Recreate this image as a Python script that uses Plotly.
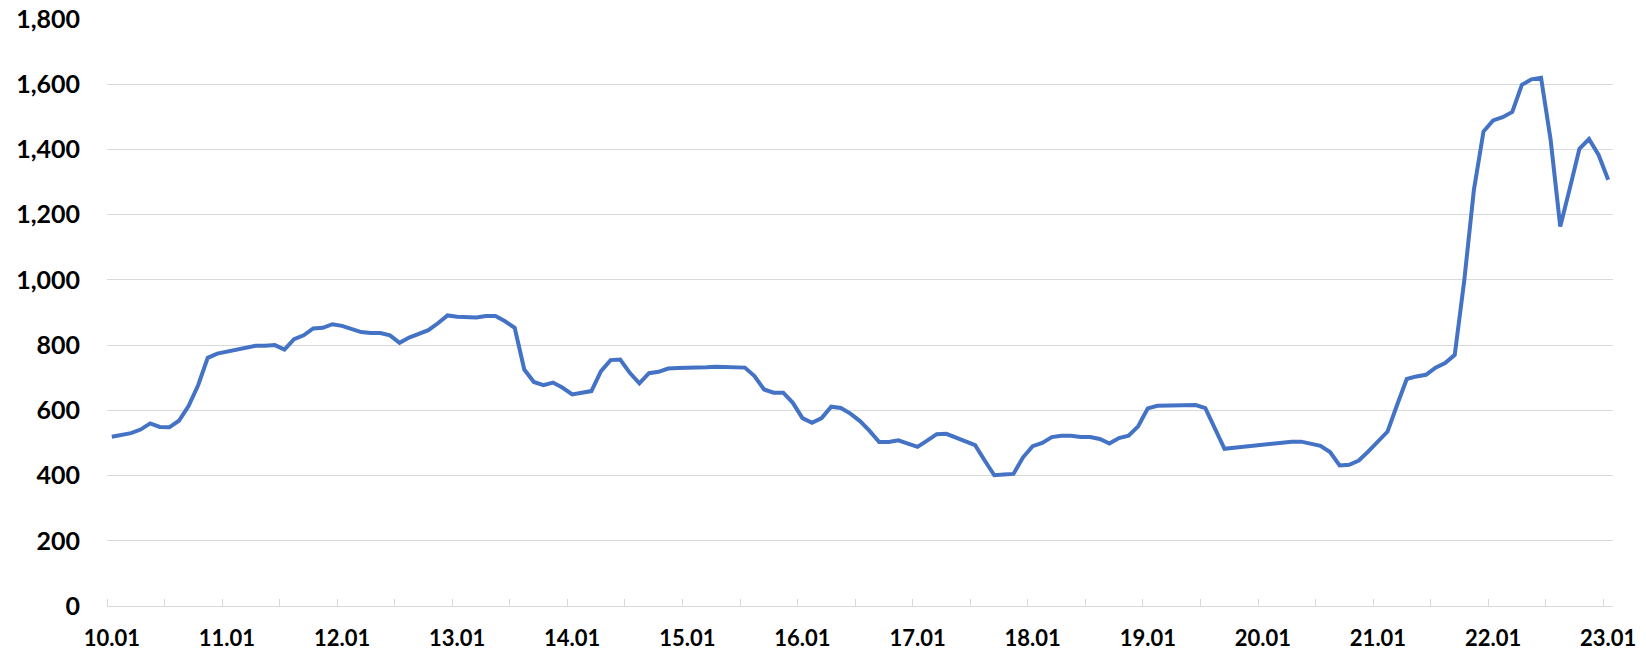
import plotly.graph_objects as go
import pandas as pd

# 2-hourly readings, 10.01 00:00 .. 23.01 00:00
values = [
    519, 523, 530, 541, 560, 549, 548, 568, 613, 677, 761, 774,
    780, 785, 793, 798, 798, 800, 786, 818, 830, 851, 853, 864,
    859, 851, 840, 837, 837, 830, 807, 823, 834, 846, 867, 891,
    887, 885, 885, 889, 889, 873, 853, 725, 687, 677, 685, 669,
    649, 654, 659, 720, 754, 756, 715, 683, 714, 718, 728, 730,
    730, 731, 732, 734, 733, 731, 731, 705, 664, 654, 654, 623,
    576, 562, 576, 611, 607, 590, 567, 537, 503, 503, 508, 498,
    488, 507, 527, 528, 516, 505, 493, 446, 401, 403, 405, 456,
    490, 500, 518, 522, 522, 518, 518, 512, 498, 515, 522, 551,
    606, 614, 614, 616, 616, 616, 607, 546, 482, 485, 488, 493,
    497, 499, 501, 504, 504, 499, 491, 472, 431, 433, 446, 474,
    504, 535, 617, 696, 704, 709, 731, 745, 770, 1000, 1276, 1455,
    1489, 1499, 1515, 1598, 1615, 1620, 1429, 1164, 1281, 1402, 1432, 1383,
    1307,
]
day_labels = ['10.01', '11.01', '12.01', '13.01', '14.01', '15.01', '16.01',
              '17.01', '18.01', '19.01', '20.01', '21.01', '22.01', '23.01']

times = pd.date_range('2023-01-10', periods=len(values), freq='2h')
days = pd.date_range('2023-01-10', periods=len(day_labels), freq='D')
# category boundaries every 12h (Excel style tick marks between categories)
boundaries = pd.date_range('2023-01-09 23:00', '2023-01-22 23:00', freq='12h')

fig = go.Figure()

fig.add_trace(go.Scatter(
    x=times,
    y=values,
    mode='lines',
    line=dict(color='#4472C4', width=4),
    showlegend=False
))

fig.update_layout(
    width=1646,
    height=654,
    paper_bgcolor='white',
    plot_bgcolor='white',
    margin=dict(l=107, r=33, t=19, b=48),
    font=dict(family='Lato', color='black'),
    xaxis=dict(
        range=['2023-01-09 23:00', '2023-01-23 01:00'],
        tickmode='array',
        tickvals=days,
        ticktext=day_labels,
        ticks='',
        showgrid=False,
        showline=True,
        linecolor='#d9d9d9',
        linewidth=1,
        zeroline=False,
        automargin=False,
        tickfont=dict(family='Lato', size=22, weight='bold', color='black'),
        ticklabelstandoff=13,
        minor=dict(
            tickmode='array',
            tickvals=boundaries,
            ticks='inside',
            ticklen=7,
            tickwidth=1,
            tickcolor='#d9d9d9',
            showgrid=False
        )
    ),
    yaxis=dict(
        range=[0, 1800],
        dtick=200,
        tickformat=',',
        showgrid=True,
        gridcolor='#d9d9d9',
        gridwidth=1,
        zeroline=False,
        showline=False,
        ticks='',
        automargin=False,
        tickfont=dict(family='Lato', size=25, weight='bold', color='black'),
        ticklabelstandoff=26
    )
)

# drop the default page margin so the chart sits at the window corner
fig.write_html('out.html', config={'displayModeBar': False},
               post_script="document.body.style.margin='0';")
